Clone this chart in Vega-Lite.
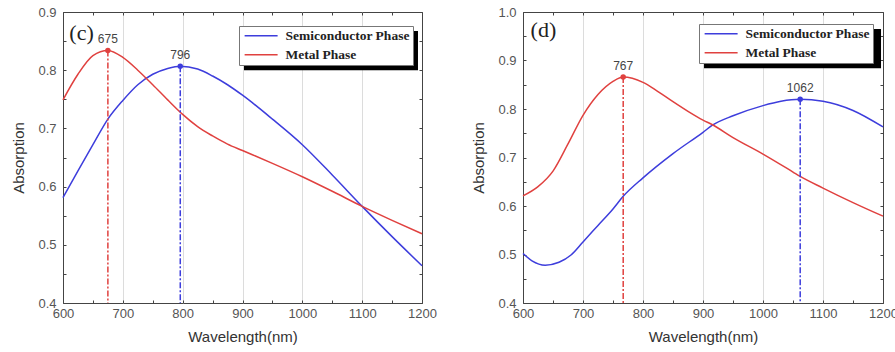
{
  "$schema": "https://vega.github.io/schema/vega-lite/v6.json",
  "background": "white",
  "padding": {"left": 11, "top": 5, "right": 0, "bottom": 0},
  "spacing": 34,
  "config": {
    "view": {"stroke": "#444", "strokeWidth": 1},
    "axis": {
      "labelFont": "Liberation Sans", "labelFontSize": 13, "labelColor": "#555", "labelFlush": false,
      "titleFont": "Liberation Sans", "titleFontSize": 15, "titleFontWeight": "normal", "titleColor": "#333",
      "domain": false, "tickColor": "#444", "tickWidth": 1, "labelOverlap": false
    },
    "legend": {
      "orient": "none", "title": null, "symbolType": "M-1,0L7,0", "symbolSize": 68, "symbolStrokeWidth": 1.5,
      "labelFont": "Liberation Serif", "labelFontSize": 13.5, "labelFontWeight": "bold", "labelColor": "#222",
      "labelOffset": 30, "labelLimit": 300, "padding": 3, "rowPadding": 4,
      "fillColor": "white", "strokeColor": "#777"
    }
  },
  "datasets": {
    "curvesC": [
      {"wl": 600, "abs": 0.581, "phase": "Semiconductor Phase"},
      {"wl": 625, "abs": 0.627, "phase": "Semiconductor Phase"},
      {"wl": 650, "abs": 0.672, "phase": "Semiconductor Phase"},
      {"wl": 675, "abs": 0.716, "phase": "Semiconductor Phase"},
      {"wl": 700, "abs": 0.748, "phase": "Semiconductor Phase"},
      {"wl": 725, "abs": 0.775, "phase": "Semiconductor Phase"},
      {"wl": 750, "abs": 0.793, "phase": "Semiconductor Phase"},
      {"wl": 775, "abs": 0.803, "phase": "Semiconductor Phase"},
      {"wl": 796, "abs": 0.807, "phase": "Semiconductor Phase"},
      {"wl": 825, "abs": 0.802, "phase": "Semiconductor Phase"},
      {"wl": 850, "abs": 0.790, "phase": "Semiconductor Phase"},
      {"wl": 875, "abs": 0.775, "phase": "Semiconductor Phase"},
      {"wl": 900, "abs": 0.757, "phase": "Semiconductor Phase"},
      {"wl": 950, "abs": 0.716, "phase": "Semiconductor Phase"},
      {"wl": 1000, "abs": 0.672, "phase": "Semiconductor Phase"},
      {"wl": 1050, "abs": 0.620, "phase": "Semiconductor Phase"},
      {"wl": 1100, "abs": 0.566, "phase": "Semiconductor Phase"},
      {"wl": 1150, "abs": 0.514, "phase": "Semiconductor Phase"},
      {"wl": 1200, "abs": 0.464, "phase": "Semiconductor Phase"},
      {"wl": 600, "abs": 0.749, "phase": "Metal Phase"},
      {"wl": 625, "abs": 0.793, "phase": "Metal Phase"},
      {"wl": 650, "abs": 0.825, "phase": "Metal Phase"},
      {"wl": 675, "abs": 0.834, "phase": "Metal Phase"},
      {"wl": 700, "abs": 0.822, "phase": "Metal Phase"},
      {"wl": 725, "abs": 0.800, "phase": "Metal Phase"},
      {"wl": 750, "abs": 0.775, "phase": "Metal Phase"},
      {"wl": 775, "abs": 0.749, "phase": "Metal Phase"},
      {"wl": 800, "abs": 0.724, "phase": "Metal Phase"},
      {"wl": 825, "abs": 0.703, "phase": "Metal Phase"},
      {"wl": 850, "abs": 0.687, "phase": "Metal Phase"},
      {"wl": 875, "abs": 0.673, "phase": "Metal Phase"},
      {"wl": 900, "abs": 0.662, "phase": "Metal Phase"},
      {"wl": 950, "abs": 0.640, "phase": "Metal Phase"},
      {"wl": 1000, "abs": 0.617, "phase": "Metal Phase"},
      {"wl": 1050, "abs": 0.592, "phase": "Metal Phase"},
      {"wl": 1100, "abs": 0.566, "phase": "Metal Phase"},
      {"wl": 1150, "abs": 0.542, "phase": "Metal Phase"},
      {"wl": 1200, "abs": 0.519, "phase": "Metal Phase"}
    ],
    "peaksC": [
      {"wl": 675, "abs": 0.834, "phase": "Metal Phase", "label": "675"},
      {"wl": 796, "abs": 0.807, "phase": "Semiconductor Phase", "label": "796"}
    ],
    "curvesD": [
      {"wl": 600, "abs": 0.502, "phase": "Semiconductor Phase"},
      {"wl": 615, "abs": 0.487, "phase": "Semiconductor Phase"},
      {"wl": 637, "abs": 0.478, "phase": "Semiconductor Phase"},
      {"wl": 660, "abs": 0.484, "phase": "Semiconductor Phase"},
      {"wl": 680, "abs": 0.499, "phase": "Semiconductor Phase"},
      {"wl": 700, "abs": 0.526, "phase": "Semiconductor Phase"},
      {"wl": 725, "abs": 0.560, "phase": "Semiconductor Phase"},
      {"wl": 750, "abs": 0.594, "phase": "Semiconductor Phase"},
      {"wl": 767, "abs": 0.620, "phase": "Semiconductor Phase"},
      {"wl": 800, "abs": 0.658, "phase": "Semiconductor Phase"},
      {"wl": 850, "abs": 0.708, "phase": "Semiconductor Phase"},
      {"wl": 900, "abs": 0.752, "phase": "Semiconductor Phase"},
      {"wl": 915, "abs": 0.766, "phase": "Semiconductor Phase"},
      {"wl": 950, "abs": 0.786, "phase": "Semiconductor Phase"},
      {"wl": 1000, "abs": 0.807, "phase": "Semiconductor Phase"},
      {"wl": 1030, "abs": 0.816, "phase": "Semiconductor Phase"},
      {"wl": 1062, "abs": 0.820, "phase": "Semiconductor Phase"},
      {"wl": 1100, "abs": 0.816, "phase": "Semiconductor Phase"},
      {"wl": 1150, "abs": 0.797, "phase": "Semiconductor Phase"},
      {"wl": 1200, "abs": 0.763, "phase": "Semiconductor Phase"},
      {"wl": 600, "abs": 0.621, "phase": "Metal Phase"},
      {"wl": 625, "abs": 0.640, "phase": "Metal Phase"},
      {"wl": 650, "abs": 0.672, "phase": "Metal Phase"},
      {"wl": 675, "abs": 0.728, "phase": "Metal Phase"},
      {"wl": 700, "abs": 0.787, "phase": "Metal Phase"},
      {"wl": 725, "abs": 0.830, "phase": "Metal Phase"},
      {"wl": 750, "abs": 0.857, "phase": "Metal Phase"},
      {"wl": 767, "abs": 0.866, "phase": "Metal Phase"},
      {"wl": 800, "abs": 0.855, "phase": "Metal Phase"},
      {"wl": 825, "abs": 0.836, "phase": "Metal Phase"},
      {"wl": 850, "abs": 0.815, "phase": "Metal Phase"},
      {"wl": 875, "abs": 0.795, "phase": "Metal Phase"},
      {"wl": 900, "abs": 0.777, "phase": "Metal Phase"},
      {"wl": 915, "abs": 0.768, "phase": "Metal Phase"},
      {"wl": 950, "abs": 0.741, "phase": "Metal Phase"},
      {"wl": 1000, "abs": 0.707, "phase": "Metal Phase"},
      {"wl": 1050, "abs": 0.670, "phase": "Metal Phase"},
      {"wl": 1062, "abs": 0.661, "phase": "Metal Phase"},
      {"wl": 1100, "abs": 0.637, "phase": "Metal Phase"},
      {"wl": 1150, "abs": 0.607, "phase": "Metal Phase"},
      {"wl": 1200, "abs": 0.579, "phase": "Metal Phase"}
    ],
    "peaksD": [
      {"wl": 767, "abs": 0.866, "phase": "Metal Phase", "label": "767"},
      {"wl": 1062, "abs": 0.820, "phase": "Semiconductor Phase", "label": "1062"}
    ],
    "panelC": [{"label": "(c)"}],
    "panelD": [{"label": "(d)"}]
  },
  "hconcat": [
    {
      "width": 359, "height": 291,
      "layer": [
        {
          "data": {"values": [{}]},
          "mark": {"type": "rect", "color": "black"},
          "encoding": {
            "x": {"datum": 902.5, "type": "quantitative", "scale": {"domain": [600, 1200], "nice": false, "zero": false}, "axis": null},
            "x2": {"datum": 1193.3},
            "y": {"datum": 0.8674, "type": "quantitative", "scale": {"domain": [0.4, 0.9], "nice": false, "zero": false}, "axis": null},
            "y2": {"datum": 0.800}
          }
        },
        {
          "data": {"name": "curvesC"},
          "mark": {"type": "line", "interpolate": "monotone", "strokeWidth": 1.5},
          "encoding": {
            "x": {"field": "wl", "type": "quantitative", "scale": {"domain": [600, 1200], "nice": false, "zero": false},
              "axis": {"orient": "bottom", "title": "Wavelength(nm)", "values": [600, 650, 700, 750, 800, 850, 900, 950, 1000, 1050, 1100, 1150, 1200],
                "labelExpr": "datum.value % 100 === 0 ? datum.label : ''", "format": "d",
                "tickSize": -3, "labelPadding": 7, "titlePadding": 9,
                "grid": true, "gridColor": "#dcdcdc",
                "gridOpacity": {"condition": {"test": "datum.value % 100 === 0 && datum.value > 600 && datum.value < 1200", "value": 1}, "value": 0}}},
            "y": {"field": "abs", "type": "quantitative", "scale": {"domain": [0.4, 0.9], "nice": false, "zero": false},
              "axis": {"orient": "left", "title": "Absorption", "values": [0.4, 0.45, 0.5, 0.55, 0.6, 0.65, 0.7, 0.75, 0.8, 0.85, 0.9], "format": ".1f",
                "labelExpr": "abs(datum.value * 10 - round(datum.value * 10)) < 0.01 ? datum.label : ''",
                "tickSize": -3, "labelPadding": 10, "titlePadding": 11, "grid": false}},
            "color": {"field": "phase", "type": "nominal",
              "scale": {"domain": ["Semiconductor Phase", "Metal Phase"], "range": ["#3d3ddc", "#e0413f"]},
              "legend": {"legendX": 176, "legendY": 14}}
          }
        },
        {
          "data": {"name": "peaksC"},
          "mark": {"type": "rule", "strokeDash": [6, 2, 2, 2], "strokeWidth": 1.5},
          "encoding": {
            "x": {"field": "wl", "type": "quantitative", "axis": null},
            "y": {"field": "abs", "type": "quantitative", "axis": null},
            "y2": {"datum": 0.4},
            "color": {"field": "phase", "type": "nominal", "legend": null}
          }
        },
        {
          "data": {"name": "peaksC"},
          "mark": {"type": "point", "filled": true, "size": 30, "opacity": 1},
          "encoding": {
            "x": {"field": "wl", "type": "quantitative",
              "axis": {"orient": "top", "title": null, "labels": false, "grid": false, "tickSize": -3,
                "values": [600, 650, 700, 750, 800, 850, 900, 950, 1000, 1050, 1100, 1150, 1200]}},
            "y": {"field": "abs", "type": "quantitative",
              "axis": {"orient": "right", "title": null, "labels": false, "grid": false, "tickSize": -3,
                "values": [0.4, 0.45, 0.5, 0.55, 0.6, 0.65, 0.7, 0.75, 0.8, 0.85, 0.9]}},
            "color": {"field": "phase", "type": "nominal", "legend": null}
          }
        },
        {
          "data": {"name": "peaksC"},
          "mark": {"type": "text", "dy": -11, "font": "Liberation Sans", "fontSize": 12, "color": "#444"},
          "encoding": {
            "x": {"field": "wl", "type": "quantitative", "axis": null},
            "y": {"field": "abs", "type": "quantitative", "axis": null},
            "text": {"field": "label", "type": "nominal"}
          }
        },
        {
          "data": {"name": "panelC"},
          "mark": {"type": "text", "font": "Liberation Serif", "fontSize": 22, "color": "#222"},
          "encoding": {
            "x": {"datum": 631, "type": "quantitative", "axis": null},
            "y": {"datum": 0.864, "type": "quantitative", "axis": null},
            "text": {"field": "label", "type": "nominal"}
          }
        }
      ]
    },
    {
      "width": 360, "height": 291,
      "layer": [
        {
          "data": {"values": [{}]},
          "mark": {"type": "rect", "color": "black"},
          "encoding": {
            "x": {"datum": 901.7, "type": "quantitative", "scale": {"domain": [600, 1200], "nice": false, "zero": false}, "axis": null},
            "x2": {"datum": 1196.7},
            "y": {"datum": 0.965, "type": "quantitative", "scale": {"domain": [0.4, 1.0], "nice": false, "zero": false}, "axis": null},
            "y2": {"datum": 0.884}
          }
        },
        {
          "data": {"name": "curvesD"},
          "mark": {"type": "line", "interpolate": "monotone", "strokeWidth": 1.5},
          "encoding": {
            "x": {"field": "wl", "type": "quantitative", "scale": {"domain": [600, 1200], "nice": false, "zero": false},
              "axis": {"orient": "bottom", "title": "Wavelength(nm)", "values": [600, 650, 700, 750, 800, 850, 900, 950, 1000, 1050, 1100, 1150, 1200],
                "labelExpr": "datum.value % 100 === 0 ? datum.label : ''", "format": "d",
                "tickSize": -3, "labelPadding": 7, "titlePadding": 9,
                "grid": true, "gridColor": "#dcdcdc",
                "gridOpacity": {"condition": {"test": "datum.value % 100 === 0 && datum.value > 600 && datum.value < 1200", "value": 1}, "value": 0}}},
            "y": {"field": "abs", "type": "quantitative", "scale": {"domain": [0.4, 1.0], "nice": false, "zero": false},
              "axis": {"orient": "left", "title": "Absorption", "values": [0.4, 0.45, 0.5, 0.55, 0.6, 0.65, 0.7, 0.75, 0.8, 0.85, 0.9, 0.95, 1.0], "format": ".1f",
                "labelExpr": "abs(datum.value * 10 - round(datum.value * 10)) < 0.01 ? datum.label : ''",
                "tickSize": -3, "labelPadding": 10, "titlePadding": 11, "grid": false}},
            "color": {"field": "phase", "type": "nominal",
              "scale": {"domain": ["Semiconductor Phase", "Metal Phase"], "range": ["#3d3ddc", "#e0413f"]},
              "legend": {"legendX": 176, "legendY": 12}}
          }
        },
        {
          "data": {"name": "peaksD"},
          "mark": {"type": "rule", "strokeDash": [6, 2, 2, 2], "strokeWidth": 1.5},
          "encoding": {
            "x": {"field": "wl", "type": "quantitative", "axis": null},
            "y": {"field": "abs", "type": "quantitative", "axis": null},
            "y2": {"datum": 0.4},
            "color": {"field": "phase", "type": "nominal", "legend": null}
          }
        },
        {
          "data": {"name": "peaksD"},
          "mark": {"type": "point", "filled": true, "size": 30, "opacity": 1},
          "encoding": {
            "x": {"field": "wl", "type": "quantitative",
              "axis": {"orient": "top", "title": null, "labels": false, "grid": false, "tickSize": -3,
                "values": [600, 650, 700, 750, 800, 850, 900, 950, 1000, 1050, 1100, 1150, 1200]}},
            "y": {"field": "abs", "type": "quantitative",
              "axis": {"orient": "right", "title": null, "labels": false, "grid": false, "tickSize": -3,
                "values": [0.4, 0.45, 0.5, 0.55, 0.6, 0.65, 0.7, 0.75, 0.8, 0.85, 0.9, 0.95, 1.0]}},
            "color": {"field": "phase", "type": "nominal", "legend": null}
          }
        },
        {
          "data": {"name": "peaksD"},
          "mark": {"type": "text", "dy": -11, "font": "Liberation Sans", "fontSize": 12, "color": "#444"},
          "encoding": {
            "x": {"field": "wl", "type": "quantitative", "axis": null},
            "y": {"field": "abs", "type": "quantitative", "axis": null},
            "text": {"field": "label", "type": "nominal"}
          }
        },
        {
          "data": {"name": "panelD"},
          "mark": {"type": "text", "font": "Liberation Serif", "fontSize": 22, "color": "#222"},
          "encoding": {
            "x": {"datum": 634, "type": "quantitative", "axis": null},
            "y": {"datum": 0.962, "type": "quantitative", "axis": null},
            "text": {"field": "label", "type": "nominal"}
          }
        }
      ]
    }
  ],
  "resolve": {"scale": {"x": "independent", "y": "independent", "color": "independent"}, "legend": {"color": "independent"}}
}
